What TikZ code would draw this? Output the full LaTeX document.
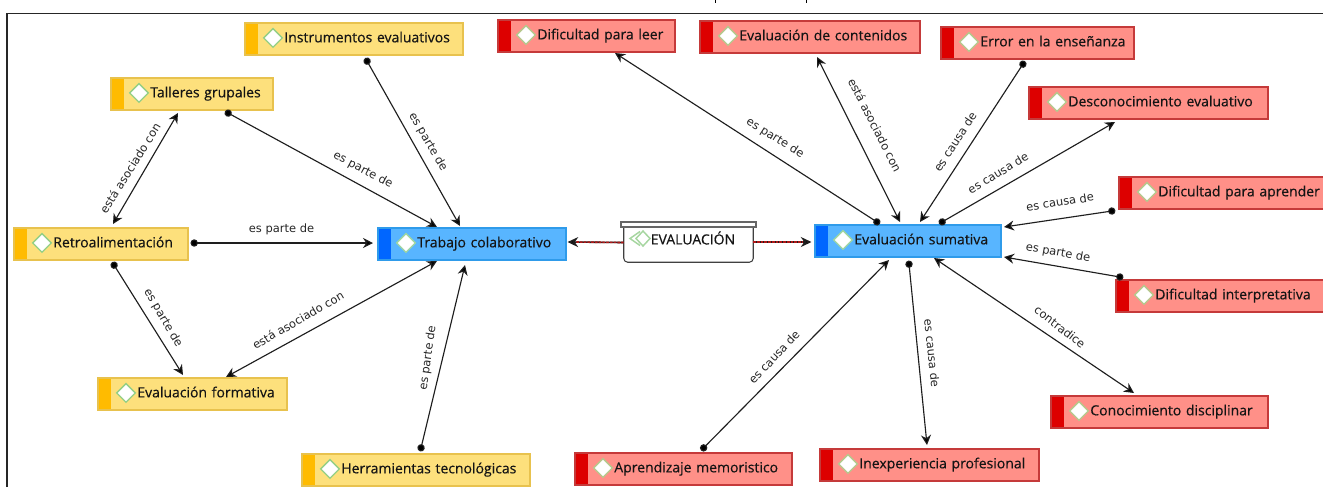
\documentclass[tikz,border=0pt]{standalone}
\usepackage{fontspec}
\setmainfont[FakeBold=0.35]{Open Sans}
\newfontfamily\lblfont{DejaVu Sans}
\usetikzlibrary{arrows.meta}
\definecolor{ystrip}{HTML}{FFBB00}
\definecolor{yfill}{HTML}{FDE07C}
\definecolor{yline}{HTML}{E8C24E}
\definecolor{ydia}{HTML}{93CF85}
\definecolor{bstrip}{HTML}{0066FF}
\definecolor{bfill}{HTML}{58B5FF}
\definecolor{bline}{HTML}{2F9BEA}
\definecolor{bdia}{HTML}{9FD6A0}
\definecolor{rstrip}{HTML}{DD0000}
\definecolor{rfill}{HTML}{FF9088}
\definecolor{rline}{HTML}{C53A3A}
\definecolor{rdia}{HTML}{B4C98C}
\definecolor{conncol}{HTML}{1E1E1E}
\definecolor{linkred}{HTML}{B01818}
\definecolor{evalgreen}{HTML}{A6D6A0}
\tikzset{
  cbox/.style n args={4}{
    draw=#3, line width=0.8pt, fill=#2, minimum height=24pt, inner xsep=0pt, inner ysep=0pt,
    font=\fontsize{10.5pt}{12pt}\selectfont, text=black!92, text height=9.5pt, text depth=4.5pt,
    path picture={
      \fill[#1] (path picture bounding box.south west) rectangle ([xshift=9.75pt]path picture bounding box.north west);
      \draw[#4, fill=white, line width=1pt]
        ([xshift=14pt,yshift=0.8pt]path picture bounding box.west) -- ++(7pt,7pt) -- ++(7pt,-7pt) -- ++(-7pt,-7pt) -- cycle;
    },
    align=left, execute at begin node={\hspace*{29.5pt}}
  },
  ybox/.style={cbox={ystrip}{yfill}{yline}{ydia}, minimum width=#1*0.75pt, text width=#1*0.75pt},
  bbox/.style={cbox={bstrip}{bfill}{bline}{bdia}, minimum width=#1*0.75pt, text width=#1*0.75pt},
  rbox/.style={cbox={rstrip}{rfill}{rline}{rdia}, minimum width=#1*0.75pt, text width=#1*0.75pt},
  rel/.style={draw=conncol, line width=0.85pt},
  dotrel/.style={rel, shorten <=-2.6pt, {Circle[length=5.5pt,fill=black]}-{Stealth[length=7.5pt,width=7.5pt,fill=black]}},
  bothrel/.style={rel, {Stealth[length=7.5pt,width=7.5pt,fill=black]}-{Stealth[length=7.5pt,width=7.5pt,fill=black]}},
  rellabel/.style={font=\lblfont\fontsize{8.6pt}{10pt}\selectfont, text=black!85, inner sep=0pt},
  linkover/.style={line width=1.2pt, draw=linkred, dash pattern=on 2pt off 0.8pt},
  linktip/.style={line width=1.2pt, draw=conncol, -{Stealth[length=8pt,width=7.5pt,fill=black]}},
}
\begin{document}
\begin{tikzpicture}[x=0.75pt,y=-0.75pt]
\useasboundingbox (0,0) rectangle (1323,487);
\fill[white] (0,0) rectangle (1323,487);
% clipped frame of the page
\draw[black!85, line width=0.8pt] (7,487) -- (7,13.5) -- (1323,13.5);
\draw[black, line width=1pt] (715.5,0) -- (715.5,2.5);
\draw[black, line width=1pt] (806.5,0) -- (806.5,2.5);

% yellow
\node[ybox=218] (instr) at (354,39) {Instrumentos evaluativos};
\node[ybox=162] (talleres) at (192,94) {Talleres grupales};
\node[ybox=174] (retro) at (101,244) {Retroalimentación};
\node[ybox=189] (formativa) at (192.5,394) {Evaluación formativa};
\node[ybox=228] (herram) at (416,470) {Herramientas tecnológicas};
% blue
\node[bbox=188] (trabajo) at (472,244) {Trabajo colaborativo};
\node[bbox=186] (sumativa) at (908,241) {Evaluación sumativa};
% red
\node[rbox=177] (leer) at (586.5,36) {Dificultad para leer};
\node[rbox=220] (contenidos) at (810,37) {Evaluación de contenidos};
\node[rbox=193] (errorens) at (1037.5,43) {Error en la enseñanza};
\node[rbox=239] (descon) at (1148.5,103) {Desconocimiento evaluativo};
\node[rbox=208] (aprender) at (1223,193) {Dificultad para aprender};
\node[rbox=211] (interp) at (1221.5,296) {Dificultad interpretativa};
\node[rbox=217] (conoc) at (1159.5,412) {Conocimiento disciplinar};
\node[rbox=219] (inexp) at (929.5,465) {Inexperiencia profesional};
\node[rbox=217] (memor) at (683.5,469) {Aprendizaje memoristico};

% central node
\node[minimum width=96.75pt, minimum height=26.25pt, inner sep=0pt] (eval) at (688.5,244.5) {};
\draw[black!75, line width=0.8pt, fill=white, rounded corners=3pt]
  (eval.north west) -- (eval.south west) -- (eval.south east) -- (eval.north east);
\node[draw=black!60, fill=white, line width=0.8pt, minimum width=101.25pt, minimum height=3.75pt, inner sep=0pt] (evalbar) at (688.5,224.5) {};
\draw[evalgreen, line width=1.1pt] (640,231.5) -- (630,238.5) -- (640,245.5);
\draw[evalgreen, line width=1.1pt] (643,231) -- (636,238.5) -- (643,246) -- (650,238.5) -- cycle;
\node[font=\fontsize{10.5pt}{12pt}\selectfont, text=black!92, inner sep=0pt, anchor=west] (evaltxt) at (650.5,238) {EVALUACIÓN};

% connectors
\draw[dotrel] ([shift={(13,22)}]instr.center) -- ([shift={(-12,-18)}]trabajo.center);
\draw[dotrel] ([shift={(36,19)}]talleres.center) -- ([shift={(-35,-17)}]trabajo.center);
\draw[bothrel] ([shift={(-14,19)}]talleres.center) -- ([shift={(12,-20)}]retro.center);
\draw[dotrel] ([shift={(93,-1)}]retro.center) -- ([shift={(-99,-1)}]trabajo.center);
\draw[dotrel] ([shift={(13,21)}]retro.center) -- ([shift={(-9.5,-19)}]formativa.center);
\draw[bothrel] ([shift={(33.5,-17)}]formativa.center) -- ([shift={(-35,17)}]trabajo.center);
\draw[dotrel] ([shift={(5,-22)}]herram.center) -- ([shift={(-7,21)}]trabajo.center);

\draw[dotrel] ([shift={(-31,-19)}]sumativa.center) -- ([shift={(28.5,17)}]leer.center);
\draw[bothrel] ([shift={(7,20)}]contenidos.center) -- ([shift={(-8,-19)}]sumativa.center);
\draw[dotrel] ([shift={(-14.5,21)}]errorens.center) -- ([shift={(12,-19)}]sumativa.center);
\draw[dotrel] ([shift={(34,-19)}]sumativa.center) -- ([shift={(-33.5,19)}]descon.center);
\draw[dotrel] ([shift={(-111,18)}]aprender.center) -- ([shift={(96,-14)}]sumativa.center);
\draw[dotrel] ([shift={(-101.5,-19)}]interp.center) -- ([shift={(96,16)}]sumativa.center);
\draw[bothrel] ([shift={(-25.5,-19)}]conoc.center) -- ([shift={(26,17)}]sumativa.center);
\draw[dotrel] ([shift={(1,23)}]sumativa.center) -- ([shift={(-2.5,-20)}]inexp.center);
\draw[dotrel] ([shift={(20,-21)}]memor.center) -- ([shift={(-19,19)}]sumativa.center);

\draw[linktip] ([shift={(0,-2)}]eval.west) -- ([shift={(1,-2)}]trabajo.east);
\draw[linkover] ([shift={(0,-2)}]eval.west) -- ([shift={(9,-2)}]trabajo.east);
\draw[linktip] ([shift={(0,-2.5)}]eval.east) -- ([shift={(-3,1)}]sumativa.west);
\draw[linkover] ([shift={(0,-2.5)}]eval.east) -- ([shift={(-11,1)}]sumativa.west);

% labels
\node[rellabel,rotate=-60] (l1) at (428,142) {es parte de};
\node[rellabel,rotate=-28] (l2) at (363,170) {es parte de};
\node[rellabel,rotate=58] (l3) at (130,168) {está asociado con};
\node[rellabel] (l4) at (281.5,229) {es parte de};
\node[rellabel,rotate=-60] (l5) at (163,318) {es parte de};
\node[rellabel,rotate=30] (l6) at (298,320) {está asociado con};
\node[rellabel,rotate=82] (l7) at (428,358) {es parte de};
\node[rellabel,rotate=-32] (l8) at (775,138) {es parte de};
\node[rellabel,rotate=-63] (l9) at (875,125) {está asociado con};
\node[rellabel,rotate=57] (l10) at (955,142) {es causa de};
\node[rellabel,rotate=31] (l11) at (998,173) {es causa de};
\node[rellabel,rotate=9] (l12) at (1060,202) {es causa de};
\node[rellabel,rotate=-10] (l13) at (1058,253) {es parte de};
\node[rellabel,rotate=-38] (l14) at (1060,327) {contradice};
\node[rellabel,rotate=-84] (l15) at (932,353) {es causa de};
\node[rellabel,rotate=47] (l16) at (774,357) {es causa de};
\end{tikzpicture}
\end{document}
